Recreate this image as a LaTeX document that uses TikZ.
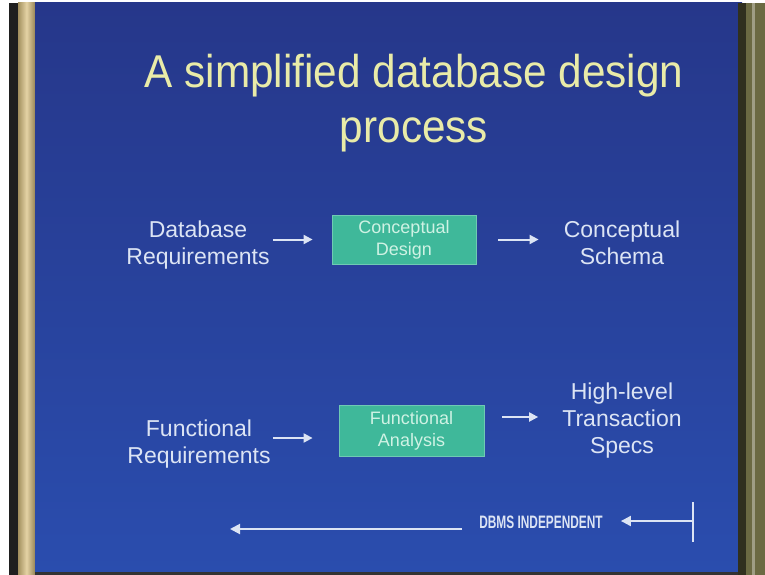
\documentclass[tikz,border=0pt]{standalone}
\usepackage{fontspec}
\setmainfont{Liberation Sans}
\newfontfamily\titlefont[FakeStretch=0.92]{Liberation Sans}
\usetikzlibrary{arrows.meta}
\definecolor{slidetop}{HTML}{26378A}
\definecolor{slidebot}{HTML}{2A4DAE}
\definecolor{tanbar}{HTML}{D9C07E}
\definecolor{olivebar}{HTML}{6B6A42}
\definecolor{titlecol}{HTML}{E9EBA8}
\definecolor{bodycol}{HTML}{DCE4F4}
\definecolor{boxfill}{HTML}{3FB89A}
\definecolor{boxtext}{HTML}{CFF2E4}
\begin{document}
\begin{tikzpicture}[x=1pt,y=-1pt,
  body/.style={text=bodycol, font=\fontsize{23}{27}\selectfont, align=center, inner sep=0pt},
  procbox/.style={fill=boxfill, draw=boxfill!75!white, line width=0.8pt, text=boxtext,
    font=\fontsize{18}{22}\selectfont, align=center, inner sep=0pt},
  flow/.style={draw=bodycol, line width=2pt, -{Triangle[length=9pt,width=9pt]}},
]
\useasboundingbox (0,0) rectangle (765,575);
% photo frame / background
\fill[white] (0,0) rectangle (765,575);
\fill[black!88] (9,3) rectangle (18,575);
\shade[left color=tanbar!75!black, right color=tanbar!70!black, middle color=tanbar!70!white] (18,3) rectangle (35,575);
\shade[top color=slidetop, bottom color=slidebot] (35,3) rectangle (742,573);
\fill[olivebar!45!black] (738,3) rectangle (746,575);
\fill[olivebar] (746,3) rectangle (765,575);
\fill[olivebar!65!white] (752,3) rectangle (755,575);
\fill[black!80] (35,572) rectangle (738,575);

% title
\node[text=titlecol, font=\titlefont\fontsize{46}{55}\selectfont, align=center, inner sep=0pt]
  (title) at (414,103) {A simplified database design\\process};

% row 1
\node[body] (dbreq) at (198,245) {Database\\Requirements};
\node[procbox, minimum width=144pt, minimum height=49pt] (cdesign) at (404,239.5) {Conceptual\\Design};
\node[body] (cschema) at (622,242.6) {Conceptual\\Schema};

% row 2
\node[body] (freq) at (199,444) {Functional\\Requirements};
\node[procbox, minimum width=145pt, minimum height=51pt] (fanal) at (411.5,430.5) {Functional\\Analysis};
\node[body] (specs) at (622,421) {High-level\\Transaction\\Specs};

% connectors row 1
\draw[flow, shorten <=3pt, shorten >=19pt] (dbreq.east |- cdesign.west) -- (cdesign.west);
\draw[flow, shorten <=22pt, shorten >=25pt] (cdesign.east) -- (cdesign.east -| cschema.west);

% connectors row 2
\draw[flow, shorten <=2pt, shorten >=26pt] ([yshift=6pt]freq.east) -- ([yshift=6pt]freq.east -| fanal.west);
\draw[flow, shorten <=18pt, shorten >=24pt] ([yshift=13.5pt]fanal.east) -- ([yshift=13.5pt]fanal.east -| specs.west);

% bottom DBMS independent marker
\node[text=bodycol, inner sep=0pt, font=\fontsize{18}{20}\selectfont\bfseries] (dbms) at (541,522)
  {\scalebox{0.66}[1]{DBMS INDEPENDENT}};
\coordinate (tickT) at (693,502);
\coordinate (tickB) at (693,542);
\coordinate (tickM) at (693,521);
\coordinate (longend) at (230,529);
\draw[draw=bodycol, line width=2pt] (tickT) -- (tickB);
\draw[flow, -{Triangle[length=10pt,width=10pt]}, shorten >=18pt] (tickM) -- (tickM -| dbms.east);
\draw[flow, -{Triangle[length=10pt,width=10pt]}, shorten <=17pt] (dbms.west |- longend) -- (longend);
\end{tikzpicture}
\end{document}
